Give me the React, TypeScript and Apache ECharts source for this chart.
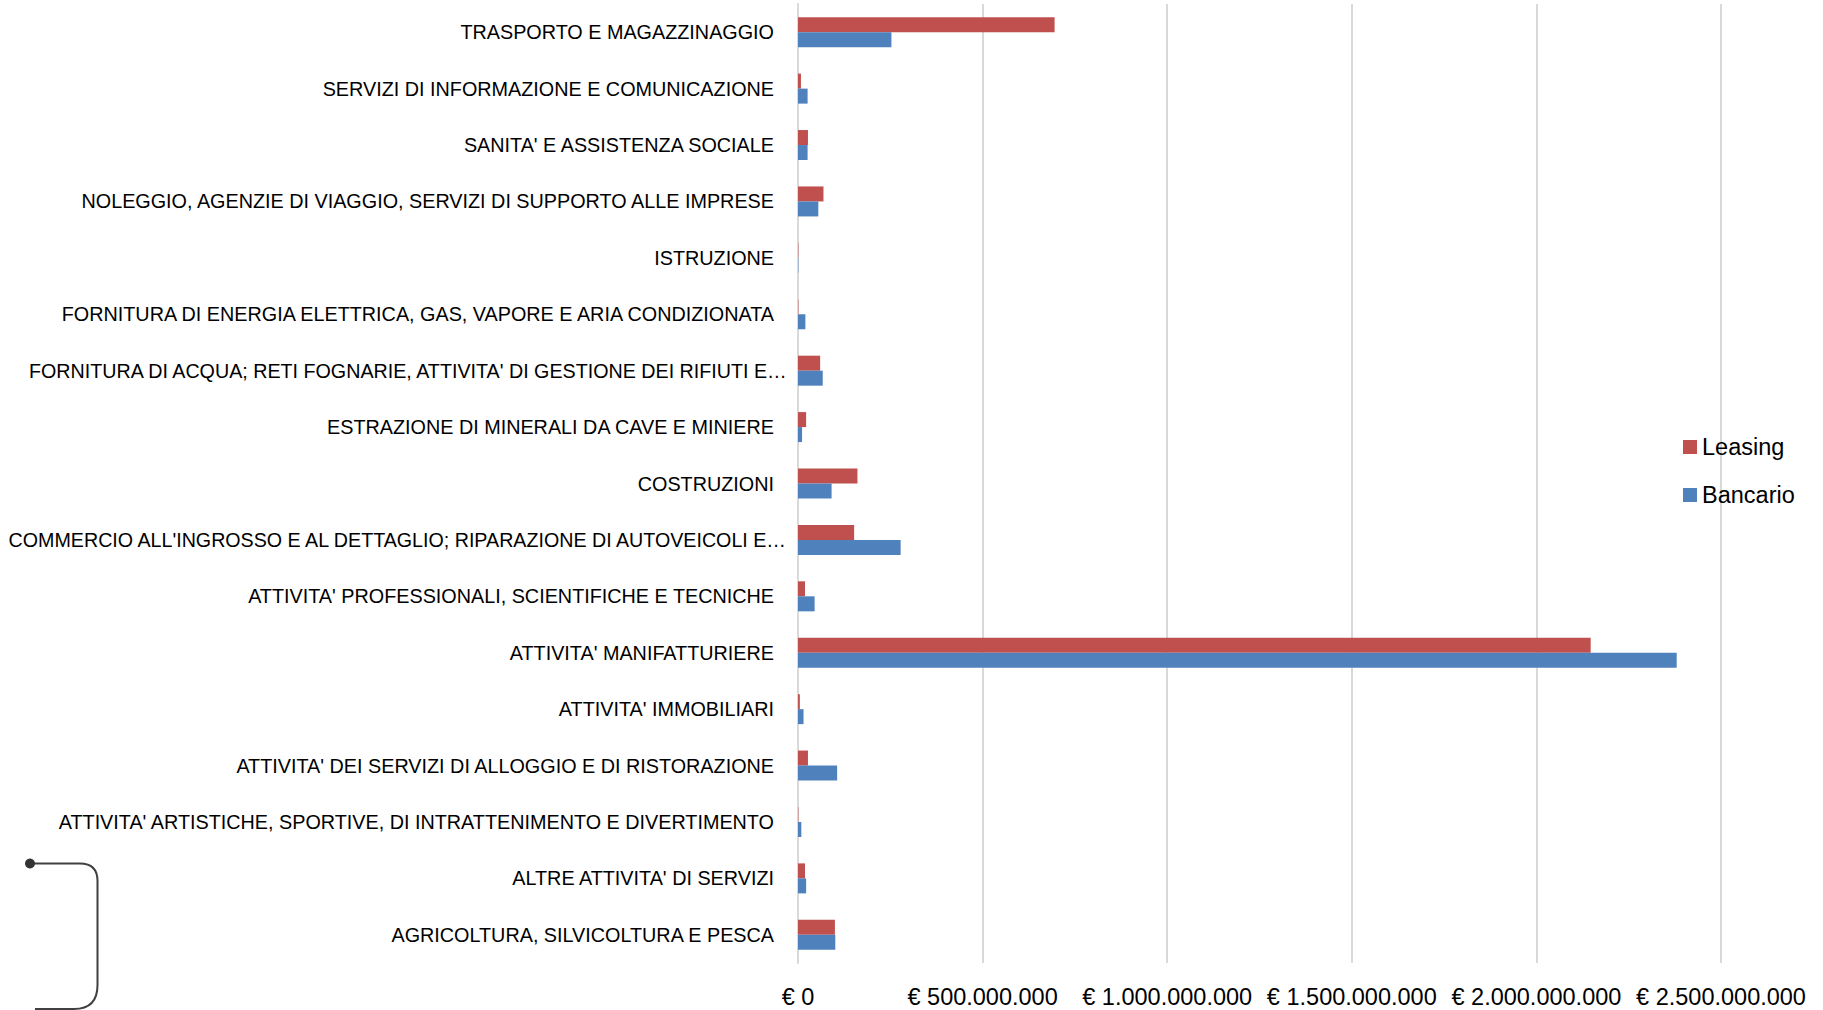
import React, { useEffect, useRef } from "react";
import * as echarts from "echarts";

const categories = [
  "TRASPORTO E MAGAZZINAGGIO",
  "SERVIZI DI INFORMAZIONE E COMUNICAZIONE",
  "SANITA' E ASSISTENZA SOCIALE",
  "NOLEGGIO, AGENZIE DI VIAGGIO, SERVIZI DI SUPPORTO ALLE IMPRESE",
  "ISTRUZIONE",
  "FORNITURA DI ENERGIA ELETTRICA, GAS, VAPORE E ARIA CONDIZIONATA",
  "FORNITURA DI ACQUA; RETI FOGNARIE, ATTIVITA' DI GESTIONE DEI RIFIUTI E…",
  "ESTRAZIONE DI MINERALI DA CAVE E MINIERE",
  "COSTRUZIONI",
  "COMMERCIO ALL'INGROSSO E AL DETTAGLIO; RIPARAZIONE DI AUTOVEICOLI E…",
  "ATTIVITA' PROFESSIONALI, SCIENTIFICHE E TECNICHE",
  "ATTIVITA' MANIFATTURIERE",
  "ATTIVITA' IMMOBILIARI",
  "ATTIVITA' DEI SERVIZI DI ALLOGGIO E DI RISTORAZIONE",
  "ATTIVITA' ARTISTICHE, SPORTIVE, DI INTRATTENIMENTO E DIVERTIMENTO",
  "ALTRE ATTIVITA' DI SERVIZI",
  "AGRICOLTURA, SILVICOLTURA E PESCA",
];

const leasing = [
  695000000, 8000000, 27000000, 69000000, 1000000, 1000000, 60000000, 22000000,
  161000000, 152000000, 19000000, 2147000000, 5000000, 27000000, 1000000,
  19000000, 100000000,
];

const bancario = [
  253000000, 26000000, 26000000, 55000000, 1000000, 20000000, 67000000,
  11000000, 91000000, 278000000, 45000000, 2380000000, 15000000, 106000000,
  9000000, 22000000, 101000000,
];

const xTicks = { min: 0, max: 2500000000, interval: 500000000 };

const fmtEuro = (v: number) =>
  "€ " + Math.round(v).toString().replace(/\B(?=(\d{3})+(?!\d))/g, ".");

const connectorPath =
  "M30 863.5 L80 863.5 Q97.5 863.5 97.5 881 L97.5 985 Q97.5 1009 74 1009 L35 1009";

const FONT_NAME = "Liberation Sans";
const LABEL_SIZE = 19.8;
const OVERHANG = 16; // truncated labels run past the normal label edge
const TRUNC_LEFT_TARGET: Record<string, number> = {
  "COMMERCIO ALL'INGROSSO E AL DETTAGLIO; RIPARAZIONE DI AUTOVEICOLI E…": 781,
  "FORNITURA DI ACQUA; RETI FOGNARIE, ATTIVITA' DI GESTIONE DEI RIFIUTI E…": 761,
};

function measure(text: string, size: number) {
  const c = document.createElement("canvas").getContext("2d");
  if (!c) return text.length * size * 0.6;
  c.font = `${size}px '${FONT_NAME}'`;
  return c.measureText(text).width;
}

export default function App() {
  const ref = useRef<HTMLDivElement>(null);
  useEffect(() => {
    if (!ref.current) return;
    echarts.graphic.registerShape(
      "connector",
      echarts.graphic.extendPath(connectorPath, {}) as any
    );
    const chart = echarts.init(ref.current, undefined, { renderer: "svg" });
    const font = `'${FONT_NAME}', Arial, sans-serif`;

    const rich: Record<string, any> = {};
    const truncKeys: Record<string, string> = {};
    Object.keys(TRUNC_LEFT_TARGET).forEach((label, i) => {
      const natural = measure(label, LABEL_SIZE);
      const size = Math.min(LABEL_SIZE, (LABEL_SIZE * TRUNC_LEFT_TARGET[label]) / natural);
      const w = measure(label, size);
      const key = "t" + i;
      truncKeys[label] = key;
      rich[key] = {
        width: w - OVERHANG,
        align: "left",
        fontSize: size,
        fontFamily: font,
        color: "#000",
      };
    });

    chart.setOption({
      animation: false,
      backgroundColor: "#ffffff",
      textStyle: { fontFamily: font },
      grid: {
        left: 798,
        right: 102,
        top: 4,
        bottom: 47,
        containLabel: false,
        outerBoundsMode: "none",
      },
      legend: {
        orient: "vertical",
        left: 1678,
        top: 430,
        itemWidth: 14,
        itemHeight: 14,
        itemGap: 24,
        icon: "rect",
        textStyle: { fontSize: 23.5, color: "#000", fontFamily: font, lineHeight: 24 },
        data: ["Leasing", "Bancario"],
      },
      xAxis: {
        type: "value",
        min: xTicks.min,
        max: xTicks.max,
        interval: xTicks.interval,
        axisLine: { show: false },
        axisTick: { show: false },
        splitLine: { show: true, lineStyle: { color: "#d9d9d9", width: 2 } },
        axisLabel: {
          formatter: (v: number) => fmtEuro(v),
          fontSize: 23.5,
          color: "#000",
          fontFamily: font,
          margin: 22,
        },
      },
      yAxis: {
        type: "category",
        inverse: true,
        data: categories,
        axisLine: { show: true, lineStyle: { color: "#d9d9d9", width: 2 } },
        axisTick: { show: false },
        axisLabel: {
          fontSize: LABEL_SIZE,
          color: "#000",
          fontFamily: font,
          margin: 24,
          interval: 0,
          formatter: (v: string) => (truncKeys[v] ? `{${truncKeys[v]}|${v}}` : v),
          rich,
        },
      },
      series: [
        {
          name: "Leasing",
          type: "bar",
          data: leasing,
          barWidth: 15,
          barGap: "0%",
          itemStyle: { color: "#C0504D" },
        },
        {
          name: "Bancario",
          type: "bar",
          data: bancario,
          barWidth: 15,
          barGap: "0%",
          itemStyle: { color: "#4F81BD" },
        },
      ],
      graphic: [
        {
          type: "connector",
          x: 0,
          y: 0,
          scaleX: 1,
          scaleY: 1,
          style: { fill: "none", stroke: "#404040", lineWidth: 2 },
        },
        {
          type: "circle",
          shape: { cx: 30, cy: 863.5, r: 5 },
          style: { fill: "#333333" },
        },
      ],
    });
    return () => chart.dispose();
  }, []);
  return (
    <div
      ref={ref}
      style={{ position: "absolute", left: 0, top: 0, width: 1823, height: 1010 }}
    />
  );
}
